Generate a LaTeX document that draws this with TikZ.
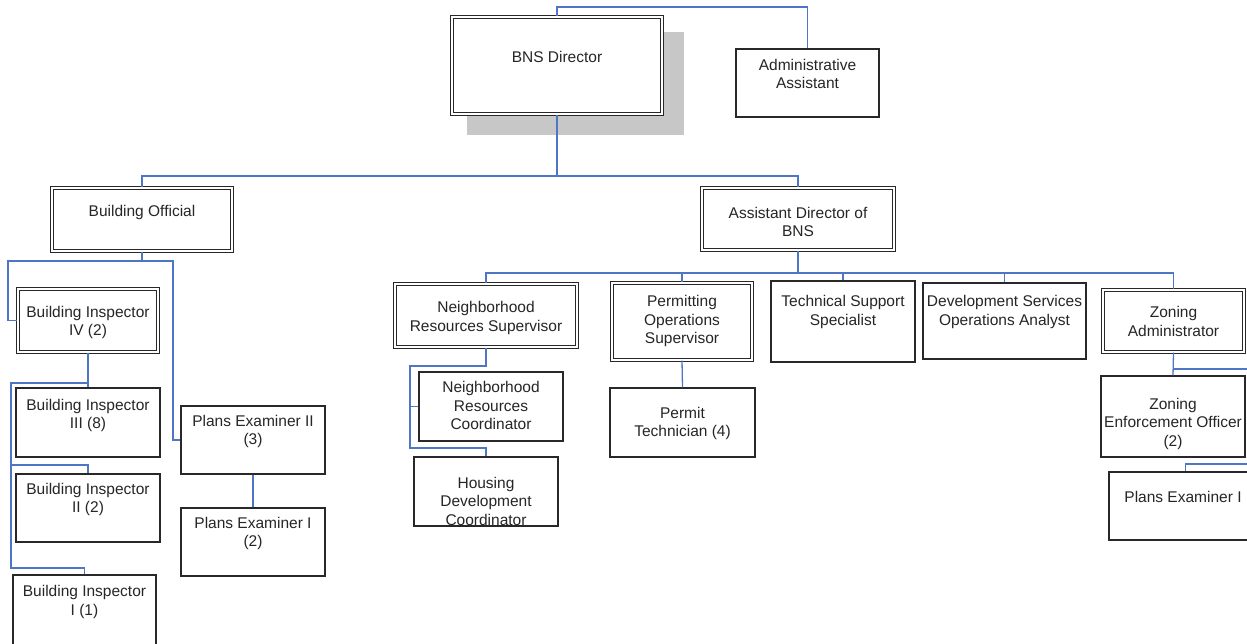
\documentclass[tikz,border=0pt]{standalone}
\usepackage{fontspec}
\setmainfont{Liberation Sans}
\usepackage{xcolor}
\definecolor{linkblue}{RGB}{78,118,196}
\definecolor{boxgray}{RGB}{40,40,40}
\newcommand{\orgfont}{\fontsize{15.5}{18.5}\selectfont}

\begin{document}
\begin{tikzpicture}[x=1pt,y=-1pt,
  every node/.style={inner sep=0pt},
  post/.style={draw=boxgray, line width=1.2pt, fill=white},
  head/.style={post, double=white, double distance=2pt},
  title/.style={font=\orgfont, align=center, text=black!85},
  link/.style={draw=linkblue, line width=1.3pt}]
\useasboundingbox (0,0) rectangle (1247,644);
\clip (0,0) rectangle (1247,644);

\fill[black!22] (467,32) rectangle (684,135);
\node[head, minimum width=210, minimum height=97] (dir) at (557,65.5) {};
\node[post, minimum width=143, minimum height=68] (admin) at (807.5,83) {};
\node[head, minimum width=180, minimum height=63] (bo) at (142,219.5) {};
\node[head, minimum width=192, minimum height=62] (ad) at (798,219) {};

\node[head, minimum width=140, minimum height=63] (bi4) at (88,320.5) {};
\node[post, minimum width=144, minimum height=69] (bi3) at (88,422.5) {};
\node[post, minimum width=144, minimum height=68] (bi2) at (88,508) {};
\node[post, minimum width=143, minimum height=75] (bi1) at (84.5,612.5) {};
\node[post, minimum width=144, minimum height=68] (pe2) at (253,440) {};
\node[post, minimum width=144, minimum height=68] (pe1) at (253,542) {};

\node[head, minimum width=182, minimum height=63] (nrs) at (486,315.5) {};
\node[post, minimum width=144, minimum height=69] (nrc) at (491,406.5) {};
\node[post, minimum width=144, minimum height=69] (hdc) at (486,491.5) {};
\node[head, minimum width=140, minimum height=77] (pos) at (682,321.5) {};
\node[post, minimum width=145, minimum height=69] (pt) at (682.5,422.5) {};
\node[post, minimum width=144, minimum height=81] (tss) at (843,321.5) {};
\node[post, minimum width=163, minimum height=76] (dsoa) at (1004.5,321) {};
\node[head, minimum width=141, minimum height=62] (za) at (1173.5,321) {};
\node[post, minimum width=144, minimum height=81] (zeo) at (1173,416.5) {};
\node[post, minimum width=153, minimum height=68] (pez) at (1185.5,506) {};

\node[title] (dir-t) at (557,57) {BNS Director};
\node[title] (admin-t) at (807.5,74) {Administrative\\Assistant};
\node[title] (bo-t) at (142,212) {Building Official};
\node[title] (ad-t) at (798,222) {Assistant Director of\\BNS};
\node[title] (bi4-t) at (88,322.5) {Building Inspector\\IV (2)};
\node[title] (bi3-t) at (88,415.5) {Building Inspector\\III (8)};
\node[title] (bi2-t) at (88,499.5) {Building Inspector\\II (2)};
\node[title] (bi1-t) at (84.5,602) {Building Inspector\\I (1)};
\node[title] (pe2-t) at (253,431.5) {Plans Examiner II\\(3)};
\node[title] (pe1-t) at (253,533.5) {Plans Examiner I\\(2)};
\node[title] (nrs-t) at (486,318) {Neighborhood\\Resources Supervisor};
\node[title] (nrc-t) at (491,405.5) {Neighborhood\\Resources\\Coordinator};
\node[title] (hdc-t) at (486,501) {Housing\\Development\\Coordinator};
\node[title] (pos-t) at (682,321) {Permitting\\Operations\\Supervisor};
\node[title] (pt-t) at (682.5,423.5) {Permit\\Technician (4)};
\node[title] (tss-t) at (843,312) {Technical Support\\Specialist};
\node[title] (dsoa-t) at (1004.5,312) {Development Services\\Operations Analyst};
\node[title] (za-t) at (1173.5,321.5) {Zoning\\Administrator};
\node[title] (zeo-t) at (1173,423.5) {Zoning\\Enforcement Officer\\(2)};
\node[title] (pez-t) at (1183,497) {Plans Examiner I};

\coordinate (d0) at (557,7);
\coordinate (d1) at (557,176);
\coordinate (b1) at (8,261);
\coordinate (b2) at (173,261);
\coordinate (bl) at (11,383);
\coordinate (bm) at (11,465);
\coordinate (bn) at (11,568);
\coordinate (a1) at (798,273);
\coordinate (nl) at (410,366);
\coordinate (nb) at (410,448);
\coordinate (zr) at (1260,369);
\coordinate (zs) at (1260,464);

\draw[link] (dir.north) -- (d0) -| (admin.north);
\draw[link] (dir.south) -- (d1);
\draw[link] (bo.north) |- (d1) -| (ad.north);
\draw[link] (bo.south) |- (b1) |- (bi4.west);
\draw[link] (bo.south) |- (b2) |- (pe2.west);
\draw[link] (bi4.south) -- (bi3.north);
\draw[link] (bi4.south) |- (bl) -- (bn) -| (bi1.north);
\draw[link] (bm) -| (bi2.north);
\draw[link] (pe2.south) -- (pe1.north);
\draw[link] (ad.south) -- (a1);
\foreach \n in {nrs,pos,tss,dsoa,za}
  \draw[link] (a1) -| (\n.north);
\draw[link] (nrs.south) |- (nl) -- (nb) -| (hdc.north);
\draw[link] (nl) |- (nrc.west);
\draw[link] (pos.south) -- (pt.north);
\draw[link] (za.south) -- (zeo.north);
\draw[link] (za.south) |- (zr);
\draw[link] (zs) -| (pez.north);
\end{tikzpicture}
\end{document}
